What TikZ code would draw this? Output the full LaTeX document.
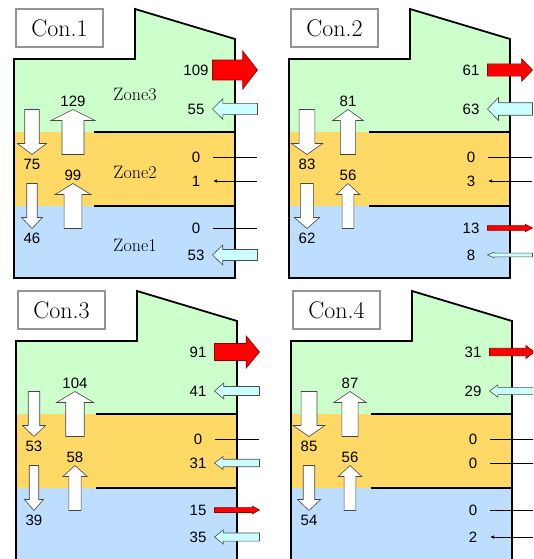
\documentclass[tikz,border=0pt]{standalone}
\usepackage{fontspec}
\setsansfont{Liberation Sans}
\usetikzlibrary{arrows.meta}
\definecolor{zonethree}{RGB}{204,255,204}
\definecolor{zonetwo}{RGB}{255,217,102}
\definecolor{zoneone}{RGB}{189,222,255}
\definecolor{heatred}{RGB}{255,0,0}
\definecolor{coolcyan}{RGB}{204,255,255}

\begin{document}
\begin{tikzpicture}[x=1pt,y=-1pt,
    every node/.style={font=\sffamily\fontsize{15}{17}\selectfont,inner sep=0pt},
    wall/.style={line width=1.8pt,line join=miter},
    conbox/.style={draw=gray!85,line width=2pt,fill=white,minimum width=87pt,
        minimum height=38pt,font=\rmfamily\fontsize{24}{28}\selectfont},
    zonelabel/.style={font=\rmfamily\fontsize{18}{20}\selectfont},
    outflow/.style={fill=heatred,draw=heatred!55!black,line width=.6pt},
    inflow/.style={fill=coolcyan,draw=gray!60!black,line width=.6pt,xscale=-1},
    upflow/.style={fill=white,draw=gray!55!black,line width=.6pt,rotate=90},
    downflow/.style={fill=white,draw=gray!55!black,line width=.6pt,rotate=-90},
    noflow/.style={draw=black,line width=.8pt},
    trickle/.style={draw=black,line width=.9pt,-{Latex[length=4pt,width=3.5pt]}},
    pics/hflow/.style 2 args={code={
        \pgfmathsetmacro\hb{1.25+0.08*#1}
        \pgfmathsetmacro\hh{2*\hb-1}
        \pgfmathsetmacro\hl{22.5-6-0.08*#1}
        \filldraw[#2] (-22.5,-\hb) -- (\hl,-\hb) -- (\hl,-\hh) -- (22.5,0)
            -- (\hl,\hh) -- (\hl,\hb) -- (-22.5,\hb) -- cycle;
    }},
    pics/vflow/.style 2 args={code={
        \pgfmathsetmacro\hb{2+0.07*#1}
        \pgfmathsetmacro\hh{2*\hb}
        \filldraw[#2] (-22.5,-\hb) -- (11.5,-\hb) -- (11.5,-\hh) -- (22.5,0)
            -- (11.5,\hh) -- (11.5,\hb) -- (-22.5,\hb) -- cycle;
    }}]
    \useasboundingbox (0,0) rectangle (533,559);
    \clip (0,0) rectangle (533,559);
    % Edificio de las cuatro variantes: tres zonas y la etiqueta.
    \foreach \px/\py/\nn in {14/59/1,289/59/2,16/341/3,291/341/4} {
        \begin{scope}[shift={(\px,\py)}]
            \fill[zonethree] (0,0) -- (121,0) -- (121,-50) -- (221,-20) -- (221,73) -- (0,73) -- cycle;
            \fill[zonetwo] (0,73) rectangle (221,147);
            \fill[zoneone] (0,147) rectangle (221,219);
            \draw[line width=1.5pt] (80,73) -- (221,73) (80,147) -- (221,147);
            \draw[wall] (0,219) -- (0,0) -- (121,0) -- (121,-50) -- (221,-20) -- (221,219) -- cycle;
            \node[conbox] (con\nn) at (45.5,-31) {Con.\nn};
        \end{scope}
    }
    % Con.1
    \begin{scope}[shift={(14,59)}]
        \foreach \yy/\vv/\ff in {11/109/outflow,50/55/inflow,98/0/noflow,122/1/trickle,169/0/noflow,196/53/inflow} {
            \ifnum\vv>3 \pic at (221,\yy) {hflow={\vv}{\ff}}; \else \draw[\ff] (243,\yy) -- (199,\yy); \fi
            \node (a\yy) at (182,\yy) {\vv};
        }
        \foreach \zz/\dn/\up in {73/75/129,147/46/99} {
            \pic at (18,\zz) {vflow={\dn}{downflow}};
            \pic at (59,\zz) {vflow={\up}{upflow}};
            \node (ad\zz) at (18,\zz+32) {\dn};
            \node (au\zz) at (59,\zz-31) {\up};
        }
        \node[zonelabel] (zone3) at (121,35) {Zone3};
        \node[zonelabel] (zone2) at (121,113) {Zone2};
        \node[zonelabel] (zone1) at (121,186) {Zone1};
    \end{scope}
    % Con.2
    \begin{scope}[shift={(289,59)}]
        \foreach \yy/\vv/\ff in {11/61/outflow,50/63/inflow,98/0/noflow,122/3/trickle,169/13/outflow,196/8/inflow} {
            \ifnum\vv>3 \pic at (221,\yy) {hflow={\vv}{\ff}}; \else \draw[\ff] (243,\yy) -- (199,\yy); \fi
            \node (b\yy) at (182,\yy) {\vv};
        }
        \foreach \zz/\dn/\up in {73/83/81,147/62/56} {
            \pic at (18,\zz) {vflow={\dn}{downflow}};
            \pic at (59,\zz) {vflow={\up}{upflow}};
            \node (bd\zz) at (18,\zz+32) {\dn};
            \node (bu\zz) at (59,\zz-31) {\up};
        }
    \end{scope}
    % Con.3
    \begin{scope}[shift={(16,341)}]
        \foreach \yy/\vv/\ff in {11/91/outflow,50/41/inflow,98/0/noflow,122/31/inflow,169/15/outflow,196/35/inflow} {
            \ifnum\vv>3 \pic at (221,\yy) {hflow={\vv}{\ff}}; \else \draw[\ff] (243,\yy) -- (199,\yy); \fi
            \node (c\yy) at (182,\yy) {\vv};
        }
        \foreach \zz/\dn/\up in {73/53/104,147/39/58} {
            \pic at (18,\zz) {vflow={\dn}{downflow}};
            \pic at (59,\zz) {vflow={\up}{upflow}};
            \node (cd\zz) at (18,\zz+32) {\dn};
            \node (cu\zz) at (59,\zz-31) {\up};
        }
    \end{scope}
    % Con.4
    \begin{scope}[shift={(291,341)}]
        \foreach \yy/\vv/\ff in {11/31/outflow,50/29/inflow,98/0/noflow,122/0/noflow,169/0/noflow,196/2/trickle} {
            \ifnum\vv>3 \pic at (221,\yy) {hflow={\vv}{\ff}}; \else \draw[\ff] (243,\yy) -- (199,\yy); \fi
            \node (d\yy) at (182,\yy) {\vv};
        }
        \foreach \zz/\dn/\up in {73/85/87,147/54/56} {
            \pic at (18,\zz) {vflow={\dn}{downflow}};
            \pic at (59,\zz) {vflow={\up}{upflow}};
            \node (dd\zz) at (18,\zz+32) {\dn};
            \node (du\zz) at (59,\zz-31) {\up};
        }
    \end{scope}
\end{tikzpicture}
\end{document}
